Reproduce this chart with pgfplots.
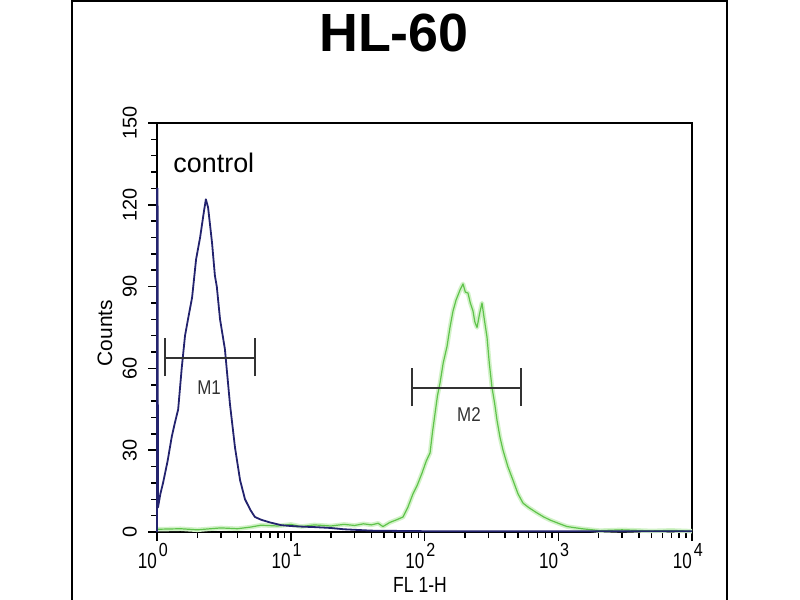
\documentclass[border=0pt]{standalone}
\usepackage{fontspec}
\setmainfont{Liberation Sans}
\usepackage{graphicx}
\usepackage{pgfplots}
\pgfplotsset{compat=1.18}
\definecolor{ctrl}{RGB}{35,35,110}
\definecolor{samp}{RGB}{95,195,75}
\definecolor{sampglow}{RGB}{210,242,200}
\definecolor{gate}{RGB}{50,50,50}
\newcommand\xl[1]{\scalebox{0.78}[1]{10}\rlap{\hspace{2bp}\raisebox{12bp}{\scalebox{0.85}[1]{\fontsize{19}{19}\selectfont #1}}}}
\begin{document}
\begin{tikzpicture}
\path[use as bounding box] (0,0) rectangle (800bp,600bp);
\fill[white] (0,0) rectangle (800bp,600bp);
\draw[line width=2bp] (72bp,-3bp) -- (72bp,599bp) -- (727bp,599bp) -- (727bp,-3bp);
\node[anchor=base, font=\fontsize{54}{54}\selectfont\bfseries] at (394bp,548bp) {HL-60};
\begin{axis}[
  at={(157bp,68bp)}, anchor=south west,
  scale only axis, width=535bp, height=409bp,
  xmode=log, xmin=1, xmax=10000, ymin=0, ymax=150,
  axis line style={line width=2bp},
  tick pos=left, tick align=outside,
  major tick length=9bp, minor tick length=6bp,
  every tick/.style={black, line width=1.5bp},
  xtick={1,10,100,1000,10000},
  xticklabels={\xl{0},\xl{1},\xl{2},\xl{3},\xl{4}},
  minor xtick={2,3,4,5,6,7,8,9,20,30,40,50,60,70,80,90,200,300,400,500,600,700,800,900,2000,3000,4000,5000,6000,7000,8000,9000},
  ytick={0,30,60,90,120,150},
  minor y tick num=4,
  /pgf/number format/assume math mode=true,
  xticklabel style={anchor=north east, inner sep=0pt, font=\fontsize{22}{22}\selectfont},
  xticklabel shift=2bp,
  yticklabel style={rotate=90, anchor=south, inner sep=0pt, font=\fontsize{20}{20}\selectfont},
  yticklabel shift=11bp,
  xlabel={\scalebox{0.8}[1]{FL 1-H}},
  xlabel style={at={(axis description cs:0.4916,-0.130)}, anchor=center, font=\fontsize{22}{22}\selectfont},
  ylabel={Counts},
  ylabel style={at={(axis description cs:-0.0972,0.4866)}, anchor=center, rotate=0, font=\fontsize{21}{21}\selectfont},
  clip=false,
]
% sample (green)
\addplot[sampglow, line width=4.5bp, line join=round] coordinates {
(1,1.0) (1.5,1.2) (2,0.8) (3,1.5) (4,1.2) (5,1.8) (6,2.5) (8,2.2) (10,2.8) (12,2.0) (15,2.6) (20,2.2) (25,2.8) (30,2.4) (35,3.0) (40,2.6) (45,3.2) (48.9,2.0) (55,3.5) (62,4.5) (69.1,5.5) (75,9) (82,14) (88,17) (95.8,21.6) (103,26) (110,29) (115,37) (120,43.6) (125,50) (130.6,54.6) (138,62) (147.3,68) (155,75) (163.3,81) (172,85) (184.2,88.7) (194,91) (202,88) (211.4,87.6) (220,84) (230.5,81) (238,77) (247,75) (258,80) (269.1,84) (280,78) (293.3,71.5) (305,62) (319.6,53) (335,47) (348.4,41) (366,35) (386.3,30) (420,24) (458.7,19) (500,14) (545,10.6) (600,9) (693,7) (780,5.5) (867,4.4) (1000,3.2) (1162,2) (1500,1.2) (2052,0.5) (3000,0.8) (5000,0.4) (7000,0.6) (10000,0.3)};
\addplot[samp, line width=1.2bp, line join=round] coordinates {
(1,1.0) (1.5,1.2) (2,0.8) (3,1.5) (4,1.2) (5,1.8) (6,2.5) (8,2.2) (10,2.8) (12,2.0) (15,2.6) (20,2.2) (25,2.8) (30,2.4) (35,3.0) (40,2.6) (45,3.2) (48.9,2.0) (55,3.5) (62,4.5) (69.1,5.5) (75,9) (82,14) (88,17) (95.8,21.6) (103,26) (110,29) (115,37) (120,43.6) (125,50) (130.6,54.6) (138,62) (147.3,68) (155,75) (163.3,81) (172,85) (184.2,88.7) (194,91) (202,88) (211.4,87.6) (220,84) (230.5,81) (238,77) (247,75) (258,80) (269.1,84) (280,78) (293.3,71.5) (305,62) (319.6,53) (335,47) (348.4,41) (366,35) (386.3,30) (420,24) (458.7,19) (500,14) (545,10.6) (600,9) (693,7) (780,5.5) (867,4.4) (1000,3.2) (1162,2) (1500,1.2) (2052,0.5) (3000,0.8) (5000,0.4) (7000,0.6) (10000,0.3)};
% control (blue)
\addplot[ctrl, line width=1.8bp, line join=round] coordinates {
(1,0) (1,126) (1.01,126) (1.017,9) (1.06,14) (1.11,18) (1.2,26) (1.29,35) (1.36,40) (1.44,45) (1.53,60) (1.62,72) (1.72,79) (1.83,86) (1.96,100) (2.10,108) (2.25,118) (2.32,122) (2.41,119) (2.5,112) (2.58,106) (2.71,94) (2.8,90) (2.96,78) (3.1,72) (3.22,67) (3.51,47) (3.83,31) (4.18,19) (4.55,12) (5.0,8) (5.40,5.5) (6.0,4.5) (7.0,3.5) (8.5,2.5) (10,2.2) (11.7,2) (15,1.8) (19.6,1.5) (25,1) (40,0.5) (100,0.3) (10000,0.3)};
% gates
\addplot[gate, line width=2bp] coordinates {(1.148,63.8) (5.40,63.8)};
\addplot[gate, line width=2bp] coordinates {(1.148,57.2) (1.148,71.1)};
\addplot[gate, line width=2bp] coordinates {(5.40,57.2) (5.40,71.1)};
\addplot[gate, line width=2bp] coordinates {(80.7,52.8) (526,52.8)};
\addplot[gate, line width=2bp] coordinates {(80.7,46.2) (80.7,60.1)};
\addplot[gate, line width=2bp] coordinates {(526,46.2) (526,60.1)};
\node[gate, font=\fontsize{20}{20}\selectfont] at (axis cs:2.45,53.1) {\scalebox{0.85}[1]{M1}};
\node[gate, font=\fontsize{20}{20}\selectfont] at (axis cs:215,42.9) {\scalebox{0.85}[1]{M2}};
\node[anchor=base west, font=\fontsize{27}{27}\selectfont] at (axis cs:1.25,132.0) {control};
\end{axis}
\end{tikzpicture}
\end{document}
